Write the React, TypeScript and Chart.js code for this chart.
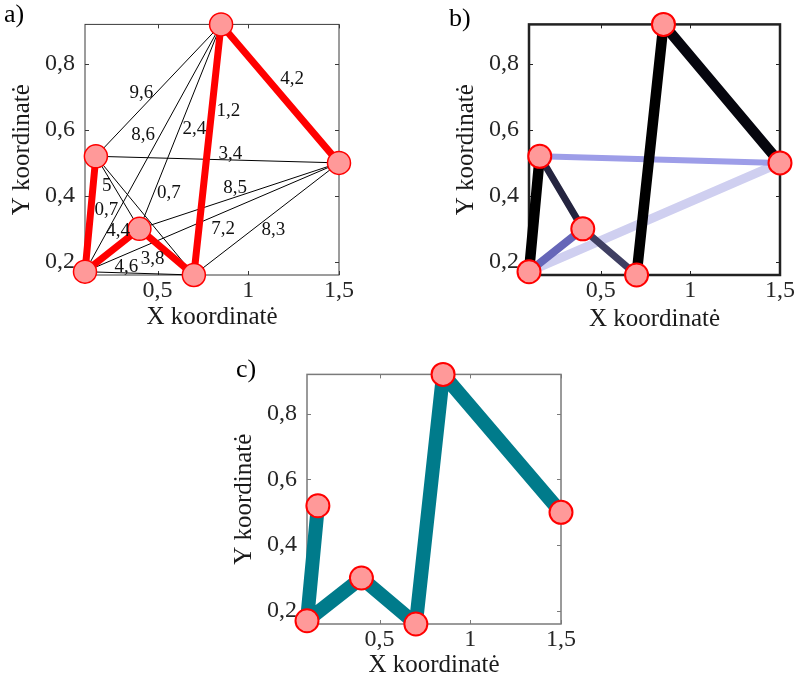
import React, { useEffect, useRef } from "react";
import { Chart, registerables } from "chart.js";

Chart.register(...registerables);

// City coordinates
const nodeX = [0.1, 0.16, 0.4, 0.7, 0.85, 1.5];
const nodeY = [0.17, 0.52, 0.3, 0.16, 0.92, 0.5];

const xTickValues = [0.5, 1, 1.5];
const yTickValues = [0.2, 0.4, 0.6, 0.8];

// Complete graph: every pair of cities and its weight
const edgeFrom = [0, 0, 2, 3, 4, 0, 1, 2, 0, 3, 1, 0, 2, 1, 1];
const edgeTo = [1, 2, 3, 4, 5, 3, 5, 5, 5, 5, 4, 4, 4, 2, 3];
const edgeWeight = [0.7, 4.4, 3.8, 1.2, 4.2, 4.6, 3.4, 8.5, 7.2, 8.3, 9.6, 8.6, 2.4, 5, 0.7];

// Best route found
const bestRoute = [1, 0, 2, 3, 4, 5];

// Edges that carry a pheromone trail (weakest first)
const trailFrom = [0, 1, 0, 2, 1, 0, 3, 4];
const trailTo = [5, 5, 2, 3, 2, 1, 4, 5];

// ---- styling ----
const SERIF = '"Liberation Serif", "Times New Roman", serif';
const TEXT = "#262626";
const trailColor = ["#cfcff0", "#9d9de8", "#6666b8", "#3f3f62", "#24243f", "#000000", "#000000", "#06060e"];
const trailWidth = [9, 6, 8, 7, 7, 10.5, 10.5, 10.5];
// pixel shift of each weight label from the middle of its edge
const weightLabelShift = [
  [16, -4], [6, -19], [-14, 7], [21, -39], [12, -15], [-13, -6], [13, -6], [-4, -8],
  [11, 12], [7, 11], [-17, 3], [-10, -13], [14, 2], [-11, -7], [24, -23],
];

const pt = (i: number) => ({ x: nodeX[i], y: nodeY[i] });
const fmt = (v: number) => String(v).replace(".", ",");

const onRoute = (a: number, b: number) => {
  for (let k = 0; k < bestRoute.length - 1; k++) {
    const p = bestRoute[k], q = bestRoute[k + 1];
    if ((p === a && q === b) || (p === b && q === a)) return true;
  }
  return false;
};

const edgeSet = (a: number, b: number, color: string, width: number) => ({
  data: [pt(a), pt(b)],
  showLine: true,
  borderColor: color,
  borderWidth: width,
  borderCapStyle: "round",
  pointRadius: 0,
  pointHoverRadius: 0,
  fill: false,
  clip: false,
});

const nodeSet = (border: number) => ({
  data: nodeX.map((_, i) => pt(i)),
  showLine: false,
  pointRadius: 11.5,
  pointHoverRadius: 11.5,
  pointBackgroundColor: "#ff9999",
  pointBorderColor: "#ff0000",
  pointBorderWidth: border,
  clip: false,
});

// a) thin graph + red route, b) pheromone trails, c) route only
const datasetsA = () => {
  const thin: any[] = [];
  const red: any[] = [];
  edgeFrom.forEach((a, i) => {
    const b = edgeTo[i];
    if (onRoute(a, b)) red.push(edgeSet(a, b, "#ff0000", 7));
    else thin.push(edgeSet(a, b, "#000000", 1));
  });
  return [...thin, ...red, nodeSet(1.5)];
};

const datasetsB = () => [
  ...trailFrom.map((a, i) => edgeSet(a, trailTo[i], trailColor[i], trailWidth[i])),
  nodeSet(2),
];

const datasetsC = () => [
  {
    data: bestRoute.map(pt),
    showLine: true,
    borderColor: "#007b8b",
    borderWidth: 14,
    borderJoinStyle: "round",
    borderCapStyle: "round",
    pointRadius: 0,
    pointHoverRadius: 0,
    fill: false,
    clip: false,
  },
  nodeSet(2),
];

// Box around the plot area with inward tick marks
const framePlugin = {
  id: "frame",
  beforeDatasetsDraw(chart: any, _args: any, opts: any) {
    const { ctx, chartArea: ca, scales } = chart;
    ctx.save();
    ctx.strokeStyle = opts.color;
    ctx.lineWidth = opts.width;
    ctx.strokeRect(ca.left, ca.top, ca.right - ca.left, ca.bottom - ca.top);
    const len = 4;
    ctx.lineWidth = 1;
    ctx.beginPath();
    scales.x.ticks.forEach((t: any) => {
      const px = Math.round(scales.x.getPixelForValue(t.value)) + 0.5;
      ctx.moveTo(px, ca.bottom);
      ctx.lineTo(px, ca.bottom - len);
      ctx.moveTo(px, ca.top);
      ctx.lineTo(px, ca.top + len);
    });
    scales.y.ticks.forEach((t: any) => {
      const py = Math.round(scales.y.getPixelForValue(t.value)) + 0.5;
      ctx.moveTo(ca.left, py);
      ctx.lineTo(ca.left + len, py);
      ctx.moveTo(ca.right, py);
      ctx.lineTo(ca.right - len, py);
    });
    ctx.stroke();
    ctx.restore();
  },
};

// Weight written beside each edge of the full graph
const weightLabelPlugin = {
  id: "weightLabels",
  afterDatasetsDraw(chart: any, _args: any, opts: any) {
    if (!opts.show) return;
    const { ctx, scales } = chart;
    ctx.save();
    ctx.font = `19px ${SERIF}`;
    ctx.fillStyle = "#111111";
    ctx.textAlign = "center";
    ctx.textBaseline = "middle";
    edgeFrom.forEach((a, i) => {
      const b = edgeTo[i];
      const mx = (scales.x.getPixelForValue(nodeX[a]) + scales.x.getPixelForValue(nodeX[b])) / 2;
      const my = (scales.y.getPixelForValue(nodeY[a]) + scales.y.getPixelForValue(nodeY[b])) / 2;
      const [dx, dy] = weightLabelShift[i];
      ctx.fillText(fmt(edgeWeight[i]), mx + dx, my + dy);
    });
    ctx.restore();
  },
};

// Panel letter in the top-left corner
const letterPlugin = {
  id: "letter",
  afterDraw(chart: any, _args: any, opts: any) {
    const { ctx } = chart;
    ctx.save();
    ctx.font = `26px ${SERIF}`;
    ctx.fillStyle = "#000000";
    ctx.textAlign = "left";
    ctx.textBaseline = "alphabetic";
    ctx.fillText(opts.text, opts.x, opts.y);
    ctx.restore();
  },
};

type PanelProps = {
  left: number;
  top: number;
  width: number;
  height: number;
  yAxisWidth: number;
  xAxisHeight: number;
  padTop: number;
  padRight: number;
  xTitlePad: number;
  yTitlePad: number;
  frameColor: string;
  frameWidth: number;
  letter: string;
  letterX: number;
  letterY: number;
  weights?: boolean;
  makeData: () => any[];
};

function Panel(p: PanelProps) {
  const ref = useRef<HTMLCanvasElement | null>(null);

  useEffect(() => {
    if (!ref.current) return;
    const datasets = p.makeData().reverse(); // first dataset is drawn on top
    const chart = new Chart(ref.current, {
      type: "scatter",
      data: { datasets },
      plugins: [framePlugin, weightLabelPlugin, letterPlugin],
      options: {
        responsive: false,
        animation: false,
        events: [],
        layout: { autoPadding: false, padding: { top: p.padTop, right: p.padRight, left: 0, bottom: 0 } },
        plugins: {
          legend: { display: false },
          tooltip: { enabled: false },
          frame: { color: p.frameColor, width: p.frameWidth },
          weightLabels: { show: !!p.weights },
          letter: { text: p.letter, x: p.letterX, y: p.letterY },
        } as any,
        scales: {
          x: {
            type: "linear",
            min: Math.min(...nodeX),
            max: Math.max(...nodeX),
            afterBuildTicks: (s: any) => {
              s.ticks = xTickValues.map((v) => ({ value: v }));
            },
            afterFit: (s: any) => {
              s.height = p.xAxisHeight;
            },
            grid: { display: false, drawTicks: false },
            border: { display: false },
            ticks: {
              font: { family: SERIF, size: 24 },
              color: TEXT,
              padding: 1,
              maxRotation: 0,
              autoSkip: false,
              callback: (v: any) => fmt(Number(v)),
            },
            title: {
              display: true,
              text: "X koordinatė",
              font: { family: SERIF, size: 25 },
              color: "#1a1a1a",
              padding: { top: 0, bottom: p.xTitlePad },
            },
          },
          y: {
            type: "linear",
            min: Math.min(...nodeY),
            max: Math.max(...nodeY),
            afterBuildTicks: (s: any) => {
              s.ticks = yTickValues.map((v) => ({ value: v }));
            },
            afterFit: (s: any) => {
              s.width = p.yAxisWidth;
            },
            grid: { display: false, drawTicks: false },
            border: { display: false },
            ticks: {
              font: { family: SERIF, size: 24 },
              color: TEXT,
              padding: 10,
              autoSkip: false,
              callback: (v: any) => fmt(Number(v)),
            },
            title: {
              display: true,
              text: "Y koordinatė",
              font: { family: SERIF, size: 25 },
              color: "#1a1a1a",
              padding: { top: p.yTitlePad, bottom: 0 },
            },
          },
        },
      } as any,
    });
    return () => chart.destroy();
  }, []);

  return (
    <canvas
      ref={ref}
      width={p.width}
      height={p.height}
      style={{ position: "absolute", left: p.left, top: p.top, width: p.width, height: p.height }}
    />
  );
}

export default function App() {
  return (
    <div style={{ position: "absolute", left: 0, top: 0, width: 796, height: 680, background: "#ffffff", overflow: "hidden" }}>
      <Panel
        left={0} top={0} width={360} height={340}
        yAxisWidth={85} xAxisHeight={65} padTop={21} padRight={21}
        xTitlePad={8} yTitlePad={7}
        frameColor="#3a3a3a" frameWidth={1}
        letter="a)" letterX={4} letterY={22}
        weights
        makeData={datasetsA}
      />
      <Panel
        left={444} top={0} width={352} height={340}
        yAxisWidth={85} xAxisHeight={65} padTop={21} padRight={12}
        xTitlePad={6} yTitlePad={7}
        frameColor="#222222" frameWidth={2.5}
        letter="b)" letterX={5} letterY={26}
        makeData={datasetsB}
      />
      <Panel
        left={222} top={350} width={370} height={330}
        yAxisWidth={85} xAxisHeight={56} padTop={19} padRight={31}
        xTitlePad={0} yTitlePad={7}
        frameColor="#7a7a7a" frameWidth={1.5}
        letter="c)" letterX={14} letterY={27}
        makeData={datasetsC}
      />
    </div>
  );
}
